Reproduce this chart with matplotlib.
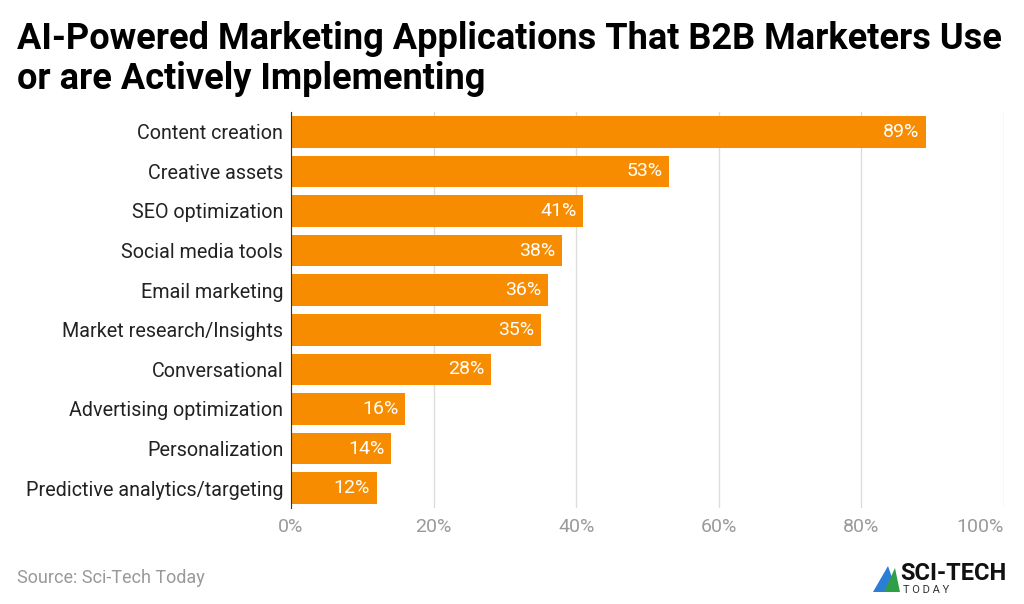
import matplotlib.pyplot as plt
from matplotlib.patches import Polygon

plt.rcParams['font.family'] = ['Roboto', 'DejaVu Sans']

categories = ["Content creation", "Creative assets", "SEO optimization",
              "Social media tools", "Email marketing", "Market research/Insights",
              "Conversational", "Advertising optimization", "Personalization",
              "Predictive analytics/targeting"]
values = [89, 53, 41, 38, 36, 35, 28, 16, 14, 12]
xticks = [0, 20, 40, 60, 80, 100]

fig = plt.figure(figsize=(10.24, 6.04), dpi=100)
ax = fig.add_axes([291/1024, 1 - 508/604, (1004-291)/1024, (508-112)/604])

ypos = list(range(len(categories)))
bars = ax.barh(ypos, values, height=0.8, color="#F88C00", zorder=3)
ax.set_ylim(len(categories) - 0.5, -0.5)
ax.set_xlim(0, 100)
ax.set_yticks(ypos)
ax.set_yticklabels(categories, fontsize=14.2, color="#222222")
ax.set_xticks(xticks)
ax.set_xticklabels([f"{t}%" for t in xticks], fontsize=14, color="#9a9a9a")
ax.get_xticklabels()[-1].set_horizontalalignment("right")
ax.tick_params(axis='y', length=0, pad=5.5)
ax.tick_params(axis='x', length=0, pad=7)
ax.grid(axis='x', color="#dddddd", linewidth=1, zorder=0)
for s in ["top", "right", "bottom"]:
    ax.spines[s].set_visible(False)
ax.spines["left"].set_color("#333333")
ax.spines["left"].set_zorder(4)

for b, v in zip(bars, values):
    ax.text(v - 0.9, b.get_y() + b.get_height()/2, f"{v}%", ha="right",
            va="center", color="white", fontsize=14, zorder=5)

fig.text(17/1024, 1 - 39/604, "AI-Powered Marketing Applications That B2B Marketers Use",
         fontsize=26, fontweight="bold", color="black", va="center", ha="left")
fig.text(17/1024, 1 - 79/604, "or are Actively Implementing",
         fontsize=26, fontweight="bold", color="black", va="center", ha="left")

fig.text(17/1024, 1 - 578/604, "Source: Sci-Tech Today", fontsize=13,
         color="#999999", va="center", ha="left")

# logo
fig.text(900/1024, 1 - 574/604, "SCI-TECH", fontsize=17, fontweight="bold",
         color="#111111", va="center", ha="left")
fig.text(903/1024, 1 - 590/604, "T O D A Y", fontsize=8, color="#333333",
         va="center", ha="left")
tri = Polygon([[873/1024, 1 - 592/604], [888/1024, 1 - 566/604], [897/1024, 1 - 592/604]],
              closed=True, transform=fig.transFigure, facecolor="#2a7fd4", edgecolor="none")
fig.patches.append(tri)
tri2 = Polygon([[884/1024, 1 - 592/604], [895/1024, 1 - 568/604], [900/1024, 1 - 592/604]],
               closed=True, transform=fig.transFigure, facecolor="#2e9e47", edgecolor="none")
fig.patches.append(tri2)

fig.savefig("out.png", dpi=100)
